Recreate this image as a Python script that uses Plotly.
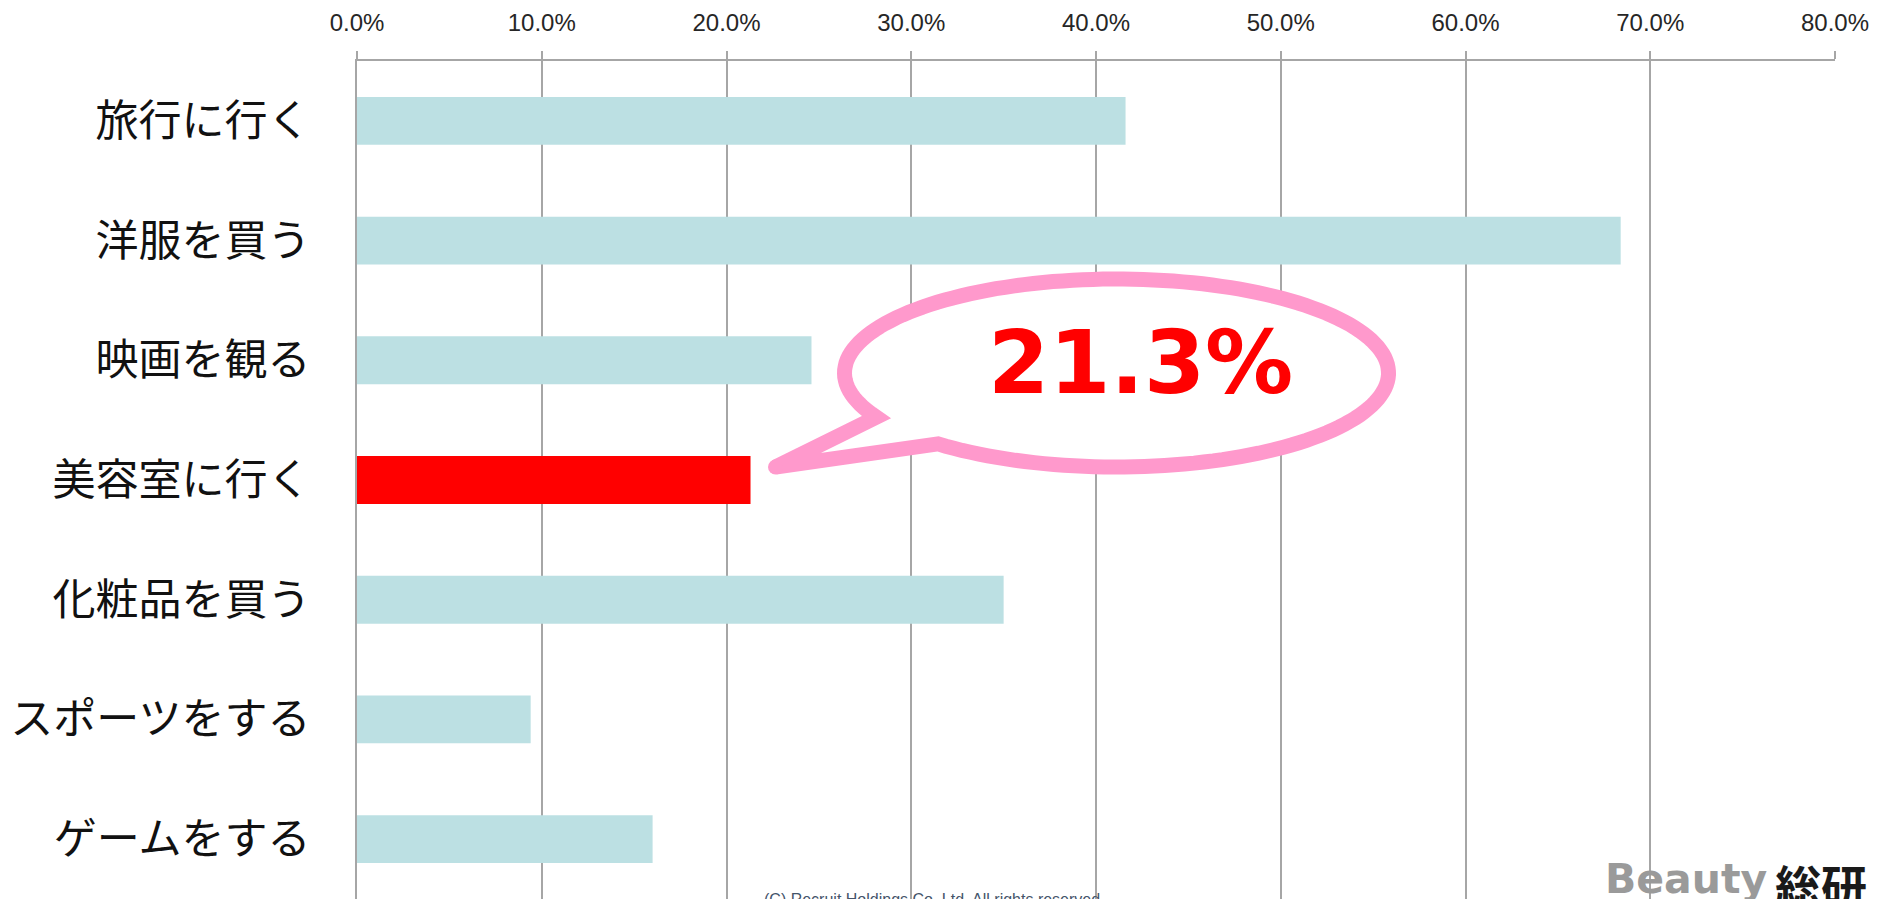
"""Beauty総研 — 美容室に行く割合 (横棒グラフ + 吹き出し)."""

import numpy as np
import plotly.graph_objects as go

CATEGORIES = [
    "旅行に行く",
    "洋服を買う",
    "映画を観る",
    "美容室に行く",
    "化粧品を買う",
    "スポーツをする",
    "ゲームをする",
]
SHARES = [41.6, 68.4, 24.6, 21.3, 35.0, 9.4, 16.0]
HIGHLIGHT = "美容室に行く"
X_TICKS = [0, 10, 20, 30, 40, 50, 60, 70, 80]
X_TICK_LABELS = ["0.0%", "10.0%", "20.0%", "30.0%", "40.0%",
                 "50.0%", "60.0%", "70.0%", "80.0%"]
COPYRIGHT = "(C) Recruit Holdings Co.,Ltd. All rights reserved."

BAR_COLOR = "#bce0e3"
HIGHLIGHT_COLOR = "#ff0000"
GRID_COLOR = "#a6a6a6"
BUBBLE_COLOR = "#ff99cc"

# ページ本体の既定余白 (8px) を差し引いた配置
W, H = 1877, 899
MARGIN = dict(l=349, r=50, t=53, b=8)
PLOT_W = W - MARGIN["l"] - MARGIN["r"]
BUBBLE_STROKE = 15
TAIL_TIP = (25, 13)


def px_to_paper_x(px):
    """Window pixel x -> paper fraction."""
    return (px - 8 - MARGIN["l"]) / PLOT_W


def bubble_path(cx, cy, rx, ry, a_start, a_end, tip):
    """Ellipse outline (pixel offsets, y up) with a pointed tail."""
    t = np.radians(np.linspace(a_start, a_end, 160))
    xs = cx + rx * np.cos(t)
    ys = cy + ry * np.sin(t)
    pts = " L".join(f"{x:.1f},{y:.1f}" for x, y in zip(xs, ys))
    return f"M{pts} L{tip[0]},{tip[1]} Z"


hi = CATEGORIES.index(HIGHLIGHT)
colors = [HIGHLIGHT_COLOR if c == HIGHLIGHT else BAR_COLOR for c in CATEGORIES]

fig = go.Figure(
    go.Bar(
        x=SHARES,
        y=list(range(len(CATEGORIES))),
        orientation="h",
        width=0.4,
        marker=dict(color=colors, line=dict(width=0)),
        hovertemplate="%{x:.1f}%<extra></extra>",
    )
)

# 吹き出し: 強調バーの先端を基準にピクセル単位で描く
fig.add_shape(
    type="path",
    xref="x", yref="y",
    xsizemode="pixel", ysizemode="pixel",
    xanchor=SHARES[hi], yanchor=hi,
    path=bubble_path(366, 107, 272, 94, 229, 568, TAIL_TIP),
    line=dict(color=BUBBLE_COLOR, width=BUBBLE_STROKE),
    fillcolor="white",
    layer="above",
)
# しっぽの先端を丸める
r_tip = BUBBLE_STROKE / 2
fig.add_shape(
    type="circle",
    xref="x", yref="y",
    xsizemode="pixel", ysizemode="pixel",
    xanchor=SHARES[hi], yanchor=hi,
    x0=TAIL_TIP[0] - r_tip, x1=TAIL_TIP[0] + r_tip,
    y0=TAIL_TIP[1] - r_tip, y1=TAIL_TIP[1] + r_tip,
    line=dict(width=0),
    fillcolor=BUBBLE_COLOR,
    layer="above",
)
fig.add_annotation(
    x=SHARES[hi], y=hi, xref="x", yref="y",
    xshift=390, yshift=118,
    text=f"<b>{SHARES[hi]:.1f}%</b>",
    showarrow=False,
    font=dict(family="DejaVu Sans", size=88, color=HIGHLIGHT_COLOR),
)

fig.add_annotation(
    x=px_to_paper_x(934), y=0,
    xref="paper", yref="paper", xanchor="center", yanchor="top",
    yshift=10,
    text=COPYRIGHT, showarrow=False,
    font=dict(family="Liberation Sans", size=16, color="#44546a"),
)
fig.add_annotation(
    x=px_to_paper_x(1603), y=0,
    xref="paper", yref="paper", xanchor="left", yanchor="top",
    yshift=46,
    text="<b>Beauty</b>", showarrow=False,
    font=dict(family="DejaVu Sans", size=41, color="#9a9a9a"),
)
fig.add_annotation(
    x=px_to_paper_x(1773), y=0,
    xref="paper", yref="paper", xanchor="left", yanchor="top",
    yshift=50,
    text="<b>総研</b>", showarrow=False,
    font=dict(family="Noto Sans CJK JP", size=46, color="#1a1a1a"),
)

fig.update_layout(
    width=W, height=H,
    margin=dict(MARGIN, autoexpand=False),
    paper_bgcolor="white", plot_bgcolor="white",
    showlegend=False,
    bargap=0.6,
)
fig.update_xaxes(
    side="top",
    automargin=False,
    range=[0, 80],
    tickvals=X_TICKS, ticktext=X_TICK_LABELS,
    ticks="outside", ticklen=8, tickcolor=GRID_COLOR, tickwidth=2,
    showgrid=True, gridcolor=GRID_COLOR, gridwidth=1.6,
    showline=True, linecolor=GRID_COLOR, linewidth=2,
    zeroline=False,
    ticklabelstandoff=10,
    tickfont=dict(family="Liberation Sans", size=24, color="#262626"),
)
fig.update_yaxes(
    automargin=False,
    range=[len(CATEGORIES) - 0.5, -0.5],
    tickvals=list(range(len(CATEGORIES))), ticktext=CATEGORIES,
    ticks="", showgrid=False,
    showline=True, linecolor=GRID_COLOR, linewidth=2,
    zeroline=False,
    ticklabelstandoff=36,
    tickfont=dict(family="Noto Sans CJK JP", size=43, color="#111111"),
)

# カテゴリ境界の目盛り (左外側)
for k in range(len(CATEGORIES)):
    fig.add_shape(
        type="line", xref="x", yref="y",
        x0=-15, x1=0, y0=k - 0.5, y1=k - 0.5,
        xsizemode="pixel", xanchor=0,
        line=dict(color=GRID_COLOR, width=2),
    )

fig.write_html("out.html")
